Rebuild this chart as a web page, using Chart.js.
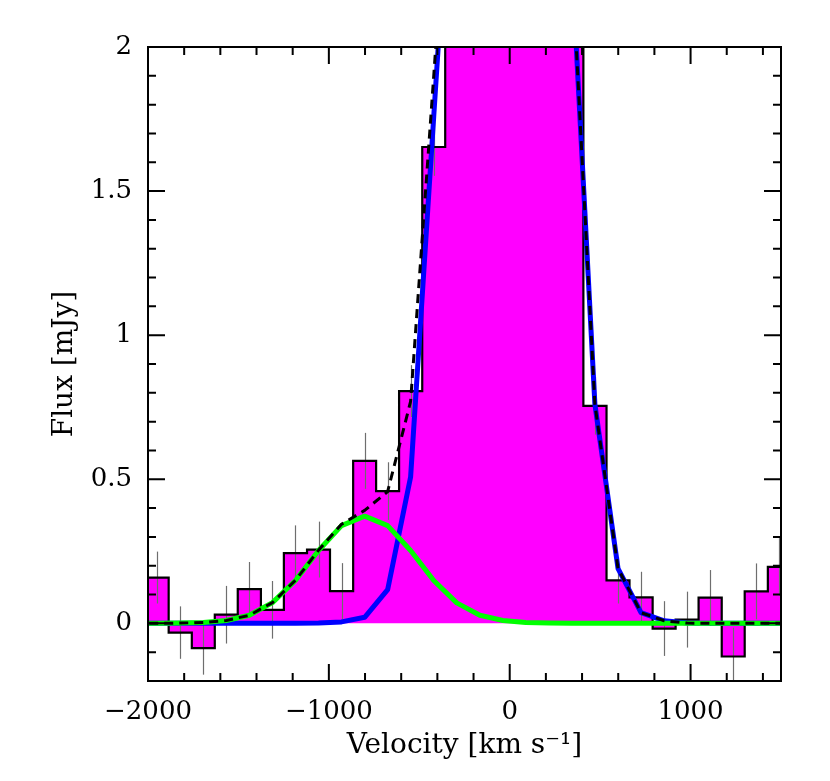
<!DOCTYPE html>
<html>
<head>
<meta charset="utf-8">
<script src="https://cdn.jsdelivr.net/npm/chart.js@4.4.0/dist/chart.umd.min.js"></script>
<style>
  html, body { margin: 0; padding: 0; background: #fff; }
</style>
</head>
<body>
<canvas id="flux-chart" width="830" height="781"></canvas>
<script>
// binned spectrum: channel centres (km/s), flux (mJy) and 1-sigma errors
// (channels 13-18 run off the top of the plot, their heights are guesses)
const binVelocity = [-1949, -1822, -1694, -1567, -1440, -1312, -1185, -1057, -930, -802,
    -675, -548, -420, -293, -165, -38, 89, 217, 344, 471,
    599, 726, 854, 981, 1108, 1236, 1363, 1491];
const binFlux = [0.159, -0.032, -0.086, 0.030, 0.119, 0.047, 0.244, 0.256, 0.112, 0.564,
    0.459, 0.806, 1.653, 3.0, 3.8, 4.2, 4.3, 3.7, 2.6, 0.755,
    0.149, 0.090, -0.018, 0.013, 0.089, -0.115, 0.111, 0.196];
const binError = [0.090, 0.091, 0.092, 0.100, 0.094, 0.100, 0.096, 0.097, 0.097, 0.097,
    0.100, 0.090, 0.100, 0.100, 0.100, 0.100, 0.100, 0.100, 0.100, 0.100,
    0.080, 0.089, 0.095, 0.097, 0.096, 0.100, 0.097, 0.100];
const channelWidth = 127.4;

// model curves on the channel grid (one extra channel each side)
const modelVelocity = [-2076, -1949, -1822, -1694, -1567, -1440, -1312, -1185, -1057, -930,
    -802, -675, -548, -420, -293, -165, -38, 89, 217, 344,
    471, 599, 726, 854, 981, 1108, 1236, 1363, 1491, 1618];
const broadComponent = [0, 0, 0, 0, 0, 0, 0, 0, 0.001, 0.005,
    0.021, 0.117, 0.508, 1.76, 3.0, 5.5, 7.0, 6.8, 4.9, 2.29,
    0.76, 0.19, 0.037, 0.009, 0.001, 0, 0, 0, 0, 0];
const outflowComponent = [0, 0, 0.001, 0.003, 0.010, 0.028, 0.072, 0.149, 0.253, 0.339,
    0.372, 0.339, 0.253, 0.149, 0.071, 0.028, 0.010, 0.003, 0.001, 0,
    0, 0, 0, 0, 0, 0, 0, 0, 0, 0];
const totalModel = [0, 0, 0.001, 0.003, 0.010, 0.028, 0.072, 0.149, 0.254, 0.344,
    0.392, 0.457, 0.77, 1.9, 3.07, 5.5, 7.0, 6.8, 4.9, 2.29,
    0.76, 0.19, 0.037, 0.009, 0.001, 0, 0, 0, 0, 0];

const xTickLabels = [-2000, -1000, 0, 1000];
const yTickLabels = [0, 0.5, 1, 1.5, 2];

function pairs(xs, ys) {
    return xs.map((x, i) => ({ x: x, y: ys[i] }));
}

// left edge of every channel plus the right edge of the last one
function histogramSteps() {
    const pts = binVelocity.map((v, i) => ({ x: v - channelWidth / 2, y: binFlux[i] }));
    const last = binVelocity.length - 1;
    pts.push({ x: binVelocity[last] + channelWidth / 2, y: binFlux[last] });
    return pts;
}

function fmtTick(v) {
    return v < 0 ? '\u2212' + Math.abs(v) : String(v);
}

const FILL_INDEX = 4;

// error bars go right after the magenta fill, under the outline
const extras = {
    id: 'extras',
    afterDatasetDraw(chart, args) {
        if (args.index !== FILL_INDEX) return;
        const { ctx, chartArea: a, scales: { x, y } } = chart;
        ctx.save();
        ctx.beginPath();
        ctx.rect(a.left, a.top, a.right - a.left, a.bottom - a.top);
        ctx.clip();
        ctx.strokeStyle = '#6e6e6e';
        ctx.lineWidth = 1.2;
        binVelocity.forEach((v, i) => {
            const px = Math.round(x.getPixelForValue(v)) + 0.5;
            ctx.beginPath();
            ctx.moveTo(px, y.getPixelForValue(binFlux[i] - binError[i]));
            ctx.lineTo(px, y.getPixelForValue(binFlux[i] + binError[i]));
            ctx.stroke();
        });
        ctx.restore();
    },
    afterDraw(chart) {
        const { ctx, chartArea: a, scales: { x, y } } = chart;
        ctx.save();
        ctx.strokeStyle = '#000';
        ctx.lineWidth = 2;
        ctx.strokeRect(a.left, a.top, a.right - a.left, a.bottom - a.top);
        ctx.beginPath();
        // x ticks every 200, long ones every 1000, on bottom and top
        for (let v = -1800; v < 1500; v += 200) {
            const px = x.getPixelForValue(v);
            const len = v % 1000 === 0 ? 17 : 8;
            ctx.moveTo(px, a.bottom); ctx.lineTo(px, a.bottom - len);
            ctx.moveTo(px, a.top); ctx.lineTo(px, a.top + len);
        }
        // y ticks every 0.1, long ones every 0.5, on left and right
        for (let k = -1; k < 20; k++) {
            const v = k / 10;
            const py = y.getPixelForValue(v);
            const len = k % 5 === 0 ? 17 : 8;
            ctx.moveTo(a.left, py); ctx.lineTo(a.left + len, py);
            ctx.moveTo(a.right, py); ctx.lineTo(a.right - len, py);
        }
        ctx.stroke();
        ctx.restore();
    }
};

const steps = histogramSteps();
const ctx = document.getElementById('flux-chart');

new Chart(ctx, {
    type: 'line',
    data: {
        datasets: [{
            label: 'total',
            data: pairs(modelVelocity, totalModel),
            borderColor: '#000',
            borderWidth: 3,
            borderDash: [9, 6],
            order: 0
        }, {
            label: 'outflow',
            data: pairs(modelVelocity, outflowComponent),
            borderColor: '#00ff00',
            borderWidth: 5,
            order: 1
        }, {
            label: 'broad',
            data: pairs(modelVelocity, broadComponent),
            borderColor: '#0000ff',
            borderWidth: 5,
            order: 2
        }, {
            label: 'histogram',
            data: steps,
            stepped: true,
            borderColor: '#000',
            borderWidth: 2.2,
            borderJoinStyle: 'miter',
            fill: false,
            clip: 0,
            order: 3
        }, {
            label: 'histogram fill',
            data: steps,
            stepped: true,
            borderColor: 'rgba(0,0,0,0)',
            borderWidth: 0,
            backgroundColor: '#ff00ff',
            fill: 'origin',
            clip: 0,
            order: 4
        }]
    },
    options: {
        responsive: false,
        devicePixelRatio: 1,
        animation: false,
        layout: { padding: { top: 47, right: 49, left: 0, bottom: 0 } },
        elements: {
            point: { radius: 0 },
            line: { tension: 0, borderJoinStyle: 'round', fill: false }
        },
        plugins: {
            legend: { display: false },
            tooltip: { enabled: false }
        },
        scales: {
            x: {
                type: 'linear',
                min: -2000,
                max: 1500,
                grid: { display: false },
                border: { display: false },
                afterBuildTicks: s => { s.ticks = xTickLabels.map(v => ({ value: v })); },
                afterFit: s => { s.height = 100; },
                ticks: {
                    padding: 8,
                    maxRotation: 0,
                    autoSkip: false,
                    color: '#000',
                    font: { family: 'DejaVu Serif', size: 26 },
                    callback: v => fmtTick(v)
                },
                title: {
                    display: true,
                    text: 'Velocity [km s\u207B\u00B9]',
                    color: '#000',
                    font: { family: 'DejaVu Serif', size: 28 },
                    padding: { top: 0, bottom: 18 }
                }
            },
            y: {
                type: 'linear',
                min: -0.2,
                max: 2,
                grid: { display: false },
                border: { display: false },
                afterBuildTicks: s => { s.ticks = yTickLabels.map(v => ({ value: v })); },
                afterFit: s => { s.width = 148; },
                ticks: {
                    padding: 8,
                    color: '#000',
                    font: { family: 'DejaVu Serif', size: 26 },
                    callback: v => fmtTick(v)
                },
                title: {
                    display: true,
                    text: 'Flux [mJy]',
                    color: '#000',
                    font: { family: 'DejaVu Serif', size: 28 },
                    padding: { top: 48, bottom: 0 }
                }
            }
        }
    },
    plugins: [extras]
});
</script>
</body>
</html>
